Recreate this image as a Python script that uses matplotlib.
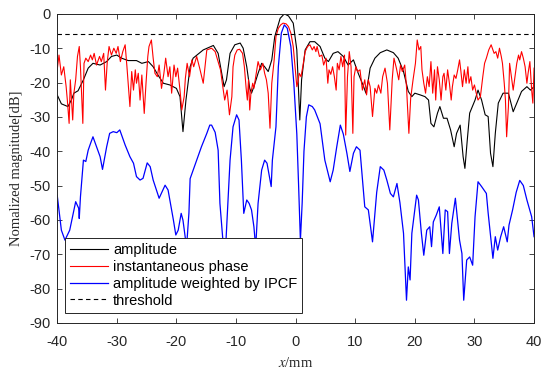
import matplotlib
matplotlib.use("Agg")
import matplotlib.pyplot as plt

# values (x in mm, magnitude in dB)
amp_x = [-40, -39.3, -38.2, -37.6, -37.2, -36.5, -35.6, -34.8, -34, -32.8, -31.7, -30.9, -30,
         -29.2, -28.1, -26.7, -25.8, -24.7, -23.9, -23.1, -22.2, -21.1, -20, -19.4, -18.9, -18.4,
         -17.7, -17.2, -15.5, -13.8, -13, -12.4, -12, -11.6, -11, -10.2, -9.3, -8.8, -8.2, -7.7,
         -7.4, -7, -6.3, -5.7, -5.2, -4.6, -4, -3.5, -2.6, -1.9, -1.2, -0.4, 0.2, 0.7, 1, 1.6,
         2.4, 3.2, 4.1, 4.9, 5.5, 6.3, 7.1, 8, 8.8, 9.7, 10.5, 11.3, 11.8, 12.2, 12.5, 13.3, 14.2,
         15.3, 16.4, 17.2, 18.1, 18.9, 19.5, 20, 20.9, 21.7, 22.3, 22.7, 23.2, 23.8, 24.2, 24.8,
         25.4, 26, 26.6, 27, 27.6, 28.1, 28.4, 28.8, 29.2, 30.1, 30.6, 31.2, 31.8, 32.3, 32.7,
         33.1, 33.5, 34, 34.8, 35.7, 36.5, 37.1, 37.9, 38.8, 39.4, 40]
amp_y = [-23.6, -26.2, -27, -25, -23.1, -22.4, -19.2, -15.8, -14.4, -14.9, -13.9, -12.4, -12,
         -12.9, -13.6, -13.6, -14.4, -13.9, -15.4, -17.8, -20.2, -20.7, -21.7, -24.1, -34.3, -25.1,
         -15.4, -12.9, -10.5, -9.2, -11.5, -17.3, -21.2, -19.2, -11.5, -9, -8.5, -10, -15.4, -21.7,
         -23.1, -21.2, -17.3, -14.4, -15.4, -16.8, -13.4, -6.6, -1.3, 0, -0.6, -2.7, -10.5, -30.9,
         -19.2, -10.5, -8.1, -8.1, -9.5, -12.9, -13.9, -11.5, -11, -12.4, -14.9, -13.4, -17.3,
         -20.7, -23.1, -19.2, -15.8, -12.9, -11.3, -10.5, -11.3, -12.9, -16.8, -22.6, -24.1, -23.1,
         -23.6, -24.1, -25.1, -31.9, -32.9, -28.9, -27, -30.4, -30.4, -33.8, -38.7, -34.8, -32.4,
         -41.6, -45, -36.7, -28.9, -25.1, -22.2, -25.1, -29.4, -29.9, -40.6, -44.5, -34.8, -26,
         -23.1, -23.1, -28.5, -26, -22.6, -21.2, -22.2, -21.2]

phase_x = [-40, -39.7, -39.3, -38.9, -38.5, -38.3, -38, -37.8, -37.4, -37.2, -36.9, -36.6, -36.3,
           -36.1, -35.7, -35.5, -35.2, -34.8, -34.4, -34.1, -33.8, -33.4, -32.9, -32.6, -32.2,
           -31.9, -31.6, -31.3, -30.9, -30.5, -30.1, -29.8, -29.4, -29, -28.6, -28.3, -27.8,
           -27.5, -27.2, -26.9, -26.7, -26.4, -26.1, -25.8, -25.4, -25.1, -24.8, -24.6, -24.2,
           -23.9, -23.6, -23.2, -22.9, -22.5, -22.1, -21.8, -21.4, -21.1, -20.8, -20.4, -20.1,
           -19.8, -19.4, -19.1, -18.7, -18.5, -18.2, -17.8, -17.4, -17.1, -16.6,
           -16.1, -15.5, -14.9, -14.1, -13.5, -13, -12.6, -12.3, -11.9, -11.5, -11.1, -10.7,
           -10.5, -10.2, -9.8, -9.4, -8.9, -8.6, -8.3, -8.1, -7.9, -7.7, -7.5, -7.2, -7, -6.7,
           -6.3, -5.9, -5.5, -5.2, -4.9, -4.6, -4.3, -4, -3.6, -3.3, -2.9, -2.5, -2.1, -1.6,
           -1.2, -0.8, -0.4, -0.1, 0.2, 0.4, 0.6, 0.9, 1.2, 1.6, 2, 2.4, 2.8, 3.1, 3.4, 3.6, 4,
           4.4, 4.7, 5.1, 5.4, 5.6, 5.9, 6.2, 6.5, 6.8, 7, 7.3, 7.6, 7.9, 8.2, 8.4, 8.7, 9, 9.3,
           9.6, 9.8, 10.1, 10.4,
           10.8, 11.2, 11.6, 11.9, 12.2, 12.5, 12.9, 13.3, 13.6, 13.9, 14.3, 14.6, 15, 15.4,
           15.8, 16.2, 16.5, 16.9, 17.3, 17.6, 17.9, 18.3, 18.6, 19, 19.3, 19.7, 20.1, 20.4,
           20.7, 21, 21.2, 21.5, 21.8, 22.1, 22.4, 22.7, 23, 23.3, 23.5, 23.8, 24.1, 24.4, 24.7,
           24.9, 25.2, 25.5, 25.8, 26.1, 26.3, 26.6, 26.9, 27.2, 27.5, 27.7, 28, 28.3, 28.6,
           28.9, 29.1, 29.4, 29.7, 30, 30.3, 30.6, 31, 31.4, 31.7, 32, 32.4, 32.8, 33.1, 33.3,
           33.6, 33.9, 34.2, 34.5, 34.7, 35, 35.2, 35.4, 35.7, 35.9, 36.2, 36.5, 36.8, 37.1,
           37.4, 37.6, 37.9, 38.2, 38.5, 38.8, 39, 39.3, 39.6, 39.8, 40]
phase_y = [-16.3, -12, -17.8, -15.4, -21.2, -25.1, -31.9, -19.2, -30.9, -23.1, -19.2, -12.4, -9.5,
           -15.4, -31.9, -14.4, -12.9, -13.9, -12, -13.4, -11.5, -14.9, -12.4, -13.9, -11.5,
           -22.2, -13.9, -9.5, -12, -10, -11.5, -9.5, -13.9, -11, -9, -15.4, -27, -16.8, -22.2,
           -16.3, -20.2, -17.3, -25.1, -17.8, -29, -20.2, -12.4, -9.5, -7.6, -12.9, -17.3,
           -18.3, -14.9, -21.7, -17.3, -12.9, -18.3, -15.4, -23.1, -14.9, -18.3, -15.8, -22.2,
           -28, -24.1, -18.8, -14.4, -18.3, -13.4, -15.4, -12.4,
           -15.8, -20.2, -10.5, -10, -11, -13.9, -16.3, -20.2, -25.1, -22.2, -29.4, -24.1,
           -15.4, -12, -10.5, -10.3, -11.5, -15.4, -21.7, -25.1, -19.2, -28, -23.1, -20.2,
           -21.7, -18.3, -13.9, -16.3, -14.4, -17.3, -19.2, -23.1, -33.3, -20.2, -13.4, -6.6,
           -4.2, -3.2, -2.7, -2.9, -3.7, -5.6, -9.5, -15.4, -21.2, -19.7, -17.3, -18.3, -15.4,
           -11, -9.5, -9, -10.5, -9.5, -11, -9.5, -12.4, -12, -14.9, -12.9, -20.2, -16.3, -17.6,
           -15.4, -18.3, -22.2, -14.4, -16.3, -12.4, -15.4, -12, -35.3, -18.3, -11, -15.4,
           -34.8, -18.3, -15.4, -16.8,
           -16.3, -22.2, -19.2, -23.6, -19.2, -21.2, -29.9, -21.7, -23.1, -20.7, -23.1, -18.3,
           -15.8, -20.2, -33.8, -19.2, -12.9, -15.8, -19.2, -14.9, -16.8, -14.9, -21.2, -34.8,
           -24.6, -19.2, -14.4, -7.6, -10.5, -9.5, -16.3, -20.2, -23.1, -18.3, -21.2, -13.9,
           -23.1, -16.3, -25.1, -15.4, -19.2, -25.1, -18.3, -17.3, -22.2, -16.3, -20.2, -25.1,
           -21.2, -17.8, -18.8, -16.3, -13.4, -16.3, -21.2, -16.3, -20.2, -15.4, -20.2, -18.3,
           -22.2, -20.7, -23.1, -25.1, -24.1, -18.3, -14.4, -12.9, -10.5, -9, -10.5, -11.5, -11,
           -12.9, -10, -12.4, -14.4, -20.2, -25.1, -35.8, -27, -14.4, -18.3, -22.2, -18.3, -14.4,
           -12, -13.4, -11, -12.9, -15.4, -20.2, -17.3, -13.9, -22.2, -26, -15.8]

ipcf_x = [-40, -39.3, -38.7, -37.9, -37.3, -36.9, -36.4, -36.3, -36.1, -35.6, -35.2, -34.8, -34.4,
          -34, -33.5, -32.8, -32.4, -31.7, -31.2, -30.6, -30, -29.5, -28.6, -27.8, -27.2, -26.7,
          -26.1, -25.6, -24.9, -24.4, -23.9, -22.9, -21.9, -21.4, -20.5, -20.1, -19.7, -19.2,
          -18.9, -18.6, -18.3, -17.9, -17.7, -16.6, -15.8, -14.9, -14.4, -14.1, -13.5, -13,
          -12.7, -12.2, -11.8, -11.6, -11, -10.5, -9.9, -9.5, -9.1, -8.7, -8.2, -7.8, -7.4, -7,
          -6.7, -6.3, -5.7, -5.2, -4.8, -4.4, -4.1, -3.9, -3.3, -2.9, -2.4, -1.9, -1.4, -0.8,
          -0.3, 0.2, 0.5, 0.8, 1.1, 1.4, 1.8, 2.2, 2.8, 3.2, 4.1, 4.9, 5.8, 6.3, 6.9, 7.5, 8,
          8.6, 9.1, 9.7, 10.2, 10.8, 11.6, 12.2, 12.9, 13.6, 14.2, 14.8, 15.3, 15.9, 16.4, 17,
          17.5, 18.1, 18.6, 18.9, 19.2, 19.5, 20, 20.3, 20.6, 21.1, 21.5, 22, 22.5, 22.8, 23.1,
          23.6, 24.1, 24.7, 25.1, 25.5, 25.8, 26.2, 26.8, 27.5, 27.9, 28.2, 28.7, 29.2, 29.7,
          30.1, 30.6, 31.2, 32, 32.3, 33.1, 33.5, 33.9, 34.4, 34.9, 35.5, 35.8, 36.4, 37, 37.6,
          38.2, 38.8, 39.6, 40]
ipcf_y = [-52.8, -63, -65.9, -63, -58.1, -54.7, -56.6, -59.6, -53.3, -42.6, -43, -39.7, -37.7,
          -35.8, -38.2, -41.6, -45.3, -38.7, -34.8, -34.3, -34.6, -33.8, -38.2, -41.6, -43.5,
          -47.4, -48.4, -47.9, -43.4, -44.5, -48.4, -53.7, -49.9, -51.3, -60.1, -64.4, -63,
          -58.1, -60.1, -64, -68, -58, -48, -42.6, -38.7, -34.8, -32.4, -32.4, -34.5, -39.7,
          -55.2, -66, -70, -63, -42.6, -32.9, -29.4, -30.9, -42.6, -58.1, -54.2, -55.2, -57.1,
          -62, -68, -55.2, -45.5, -42.6, -43.5, -47.4, -50.3, -42.6, -32.9, -15.4, -5.6, -3.2,
          -4.2, -9.5, -20.2, -35, -50, -66, -55, -40, -30, -26.5, -27, -28, -32, -42.6, -48.9,
          -45.5, -38.7, -32.4, -35, -40.6, -45.9, -40.6, -38.7, -39.7, -56.2, -57.1, -66.4,
          -52, -44.5, -45.5, -48.4, -52.3, -53.3, -49.4, -55, -63.9, -83.4, -73.7, -77.5,
          -63.9, -57.1, -52.8, -54.2, -63.9, -70.3, -63, -62, -67.8, -60.6, -58.6, -56.2, -69.8,
          -57.1, -57.6, -69.8, -61, -53.7, -65.9, -69.8, -83.4, -71.7, -70.8, -73.2, -59.1,
          -48.9, -50.3, -52.3, -58, -71.2, -64.9, -68.8, -64.9, -62, -66.4, -61.5, -57.1, -52,
          -48.5, -50, -54.2, -59.1, -64.9]

threshold = -6
x_ticks = [-40, -30, -20, -10, 0, 10, 20, 30, 40]
y_ticks = [-90, -80, -70, -60, -50, -40, -30, -20, -10, 0]

plt.rcParams['font.family'] = ['Liberation Sans', 'DejaVu Sans']
plt.rcParams['mathtext.fontset'] = 'stix'
plt.rcParams['axes.unicode_minus'] = False
axis_grey = '#262626'

fig = plt.figure(figsize=(5.5, 3.75), dpi=100)
ax = fig.add_axes([0.104, 0.139, 0.867, 0.824])

ax.plot(amp_x, amp_y, color='black', lw=0.8, label='amplitude')
ax.plot(phase_x, phase_y, color='#ff0000', lw=0.8, label='instantaneous phase')
ax.plot(ipcf_x, ipcf_y, color='#0000ff', lw=0.9, label='amplitude weighted by IPCF')
ax.axhline(threshold, color='black', lw=0.8, ls=(0, (4, 3)), label='threshold')

ax.set_xlim(-40, 40)
ax.set_ylim(-90, 0)
ax.set_xticks(x_ticks)
ax.set_yticks(y_ticks)
ax.tick_params(direction='in', top=True, right=True, length=3.5, width=0.6,
               labelsize=10.5, colors=axis_grey)
ax.tick_params(axis='x', pad=9)
ax.tick_params(axis='y', pad=5)
for s in ax.spines.values():
    s.set_color(axis_grey)
    s.set_linewidth(0.7)

ax.set_xlabel('$x$/mm', family='Liberation Serif', fontsize=10.5, color=axis_grey, labelpad=5)
ax.set_ylabel('Nomalized magnitude[dB]', family='Liberation Serif', fontsize=10.5,
              color=axis_grey, labelpad=4)

leg = ax.legend(loc='lower left', bbox_to_anchor=(0.016, 0.033), borderaxespad=0,
                fontsize=10.5, handlelength=2.6, handletextpad=0.35, labelspacing=0.2,
                borderpad=0.35, fancybox=False, framealpha=1)
leg.get_frame().set_edgecolor(axis_grey)
leg.get_frame().set_linewidth(0.7)

fig.savefig('out.png', dpi=100)
